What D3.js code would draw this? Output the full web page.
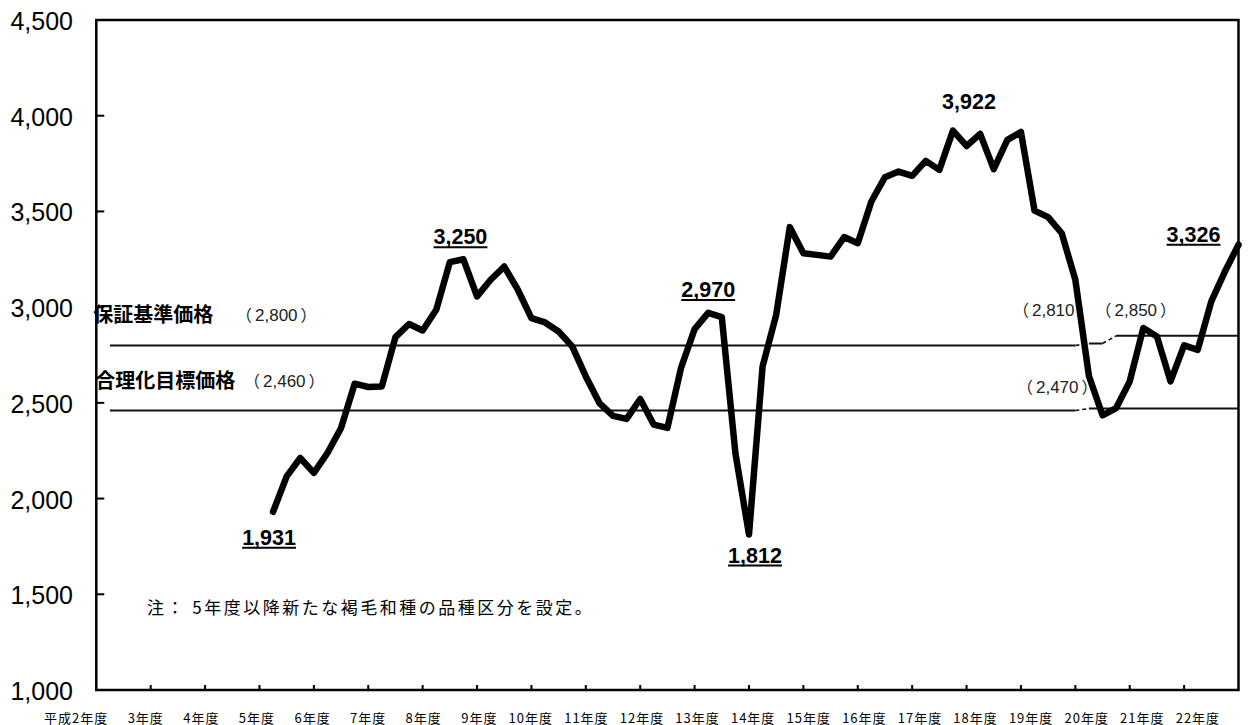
<!DOCTYPE html>
<html><head><meta charset="utf-8">
<script src="https://cdn.jsdelivr.net/npm/d3@7/dist/d3.min.js"></script>
<style>
html,body{margin:0;padding:0;background:#fff;}
svg{display:block;}
</style></head>
<body>
<svg id="chart" width="1250" height="725"></svg>
<script>
// ---- data ----
// quarter index 0 = 平成2年度 first quarter; 4 quarters per fiscal year
const yearLabels = ["平成2年度","3年度","4年度","5年度","6年度","7年度","8年度","9年度","10年度","11年度","12年度","13年度","14年度","15年度","16年度","17年度","18年度","19年度","20年度","21年度","22年度"];
const firstQuarter = 13;
const priceValues = [1931,2116,2212,2134,2238,2369,2600,2583,2586,2843,2912,2878,2986,3235,3250,3056,3143,3212,3091,2943,2920,2873,2795,2638,2499,2432,2416,2520,2386,2369,2682,2885,2970,2948,2238,1812,2690,2960,3418,3282,3273,3264,3366,3334,3552,3679,3708,3686,3764,3717,3922,3842,3905,3721,3874,3915,3504,3470,3386,3143,2640,2435,2473,2612,2891,2847,2612,2800,2777,3030,3186,3326];
const yTicks = [1000,1500,2000,2500,3000,3500,4000,4500];
// reference price lines (quarter index, value, dashed-from-previous)
const guaranteeIdx = [1,72,73,74,75,84];
const guaranteeVal = [2800,2800,2810,2810,2850,2850];
const guaranteeDash = [false,false,true,false,true,false];
const targetIdx = [1,72,73,84];
const targetVal = [2460,2460,2470,2470];
const targetDash = [false,false,true,false];
// annotated points
const annotIdx = [13,27,45,48,63,84];
const annotUnderline = [true,true,true,true,false,true];
const annotText = ["1,931","3,250","2,970","1,812","3,922","3,326"];
const noteText = "注： 5年度以降新たな褐毛和種の品種区分を設定。";

// ---- layout ----
const svg = d3.select("#chart");
const L = 96.3, R = 1238.5, T = 20, B = 690;
const nQuarters = 84;
const x = d3.scaleLinear().domain([0, nQuarters]).range([L, R]);
const y = d3.scaleLinear().domain([1000, 4500]).range([B, T]);
const CJK = "'Noto Sans CJK JP','Noto Sans',sans-serif";
const LAT = "'Liberation Sans',Arial,sans-serif";

// frame
svg.append("rect").attr("x", L).attr("y", T).attr("width", R - L).attr("height", B - T)
  .attr("fill", "none").attr("stroke", "#000").attr("stroke-width", 2.5);

// y axis ticks (inside)
svg.append("g").selectAll("line").data(yTicks.slice(1, -1)).join("line")
  .attr("x1", L).attr("x2", L + 8).attr("y1", d => y(d)).attr("y2", d => y(d))
  .attr("stroke", "#000").attr("stroke-width", 2);
svg.append("g").selectAll("text").data(yTicks).join("text")
  .attr("x", 73).attr("y", d => y(d) + 1).attr("text-anchor", "end")
  .attr("dominant-baseline", "central")
  .style("font-family", LAT).style("font-size", "25px").attr("fill", "#000")
  .text(d3.format(","));

// x axis ticks (inside), every 4 quarters
const xTickIdx = d3.range(4, nQuarters, 4);
svg.append("g").selectAll("line").data(xTickIdx).join("line")
  .attr("x1", d => x(d)).attr("x2", d => x(d)).attr("y1", B).attr("y2", B - 5)
  .attr("stroke", "#000").attr("stroke-width", 2);
const labelX = d3.scaleLinear().domain([0, yearLabels.length - 1]).range([x(0) + 12, x(80) + 36]);
svg.append("g").selectAll("text").data(yearLabels).join("text")
  .attr("x", (d, i) => labelX(i)).attr("y", 717).attr("text-anchor", "end")
  .attr("dominant-baseline", "central")
  .style("font-family", CJK).style("font-size", "13px").style("letter-spacing", "1px")
  .attr("fill", "#000").text(d => d);

// reference lines
function refLine(idx, val, dash) {
  for (let k = 1; k < idx.length; k++) {
    svg.append("line")
      .attr("x1", x(idx[k - 1])).attr("y1", y(val[k - 1]))
      .attr("x2", x(idx[k])).attr("y2", y(val[k]))
      .attr("stroke", "#111").attr("stroke-width", dash[k] ? 1.6 : 2)
      .attr("stroke-dasharray", dash[k] ? "4,3" : null);
  }
}
refLine(guaranteeIdx, guaranteeVal, guaranteeDash);
refLine(targetIdx, targetVal, targetDash);

// reference labels
function txt(s, xx, yy, size, weight, family, anchor) {
  return svg.append("text").attr("x", xx).attr("y", yy)
    .attr("text-anchor", anchor || "start")
    .style("font-family", family).style("font-size", size + "px")
    .style("font-weight", weight).attr("fill", "#000").text(s);
}
// value in full-width parentheses: （n）
function paren(v, xx, yy) {
  const t = svg.append("text").attr("x", xx - 9).attr("y", yy)
    .style("font-size", "16px").attr("fill", "#222");
  t.append("tspan").style("font-family", CJK).text("（");
  t.append("tspan").attr("dx", 3).style("font-family", LAT).style("font-size", "17px").text(d3.format(",")(v));
  t.append("tspan").attr("dx", 3).style("font-family", CJK).text("）");
  return t;
}
txt("保証基準価格", L - 3, y(2800) - 23, 20, "bold", CJK);
paren(2800, 245, y(2800) - 24);
txt("合理化目標価格", L - 1, y(2460) - 23, 20, "bold", CJK);
paren(2460, 253, y(2460) - 24);
paren(2810, x(68) + 1, y(2850) - 20);
paren(2850, x(74) + 2, y(2850) - 20);
paren(2470, x(68) + 5, y(2470) - 16);

// price line
const series = priceValues.map((v, k) => ({ i: firstQuarter + k, v }));
svg.append("path").datum(series)
  .attr("d", d3.line().x(d => x(d.i)).y(d => y(d.v)))
  .attr("fill", "none").attr("stroke", "#000").attr("stroke-width", 6.5)
  .attr("stroke-linejoin", "round").attr("stroke-linecap", "round");

// annotations
const annotOffset = [[-4, 33], [-3, -15], [0, -16], [6, 28], [16, -22], [-45, -3]];
annotIdx.forEach((qi, k) => {
  const v = priceValues[qi - firstQuarter];
  const t = txt(annotText[k], x(qi) + annotOffset[k][0], y(v) + annotOffset[k][1], 21.5, "bold", LAT, "middle");
  if (annotUnderline[k]) {
    const bb = t.node().getBBox();
    svg.append("line").attr("x1", bb.x).attr("x2", bb.x + bb.width)
      .attr("y1", y(v) + annotOffset[k][1] + 3).attr("y2", y(v) + annotOffset[k][1] + 3)
      .attr("stroke", "#000").attr("stroke-width", 2);
  }
});

// note
txt(noteText, 147, 614, 17, "normal", CJK).style("letter-spacing", "2.5px");
</script>
</body></html>
